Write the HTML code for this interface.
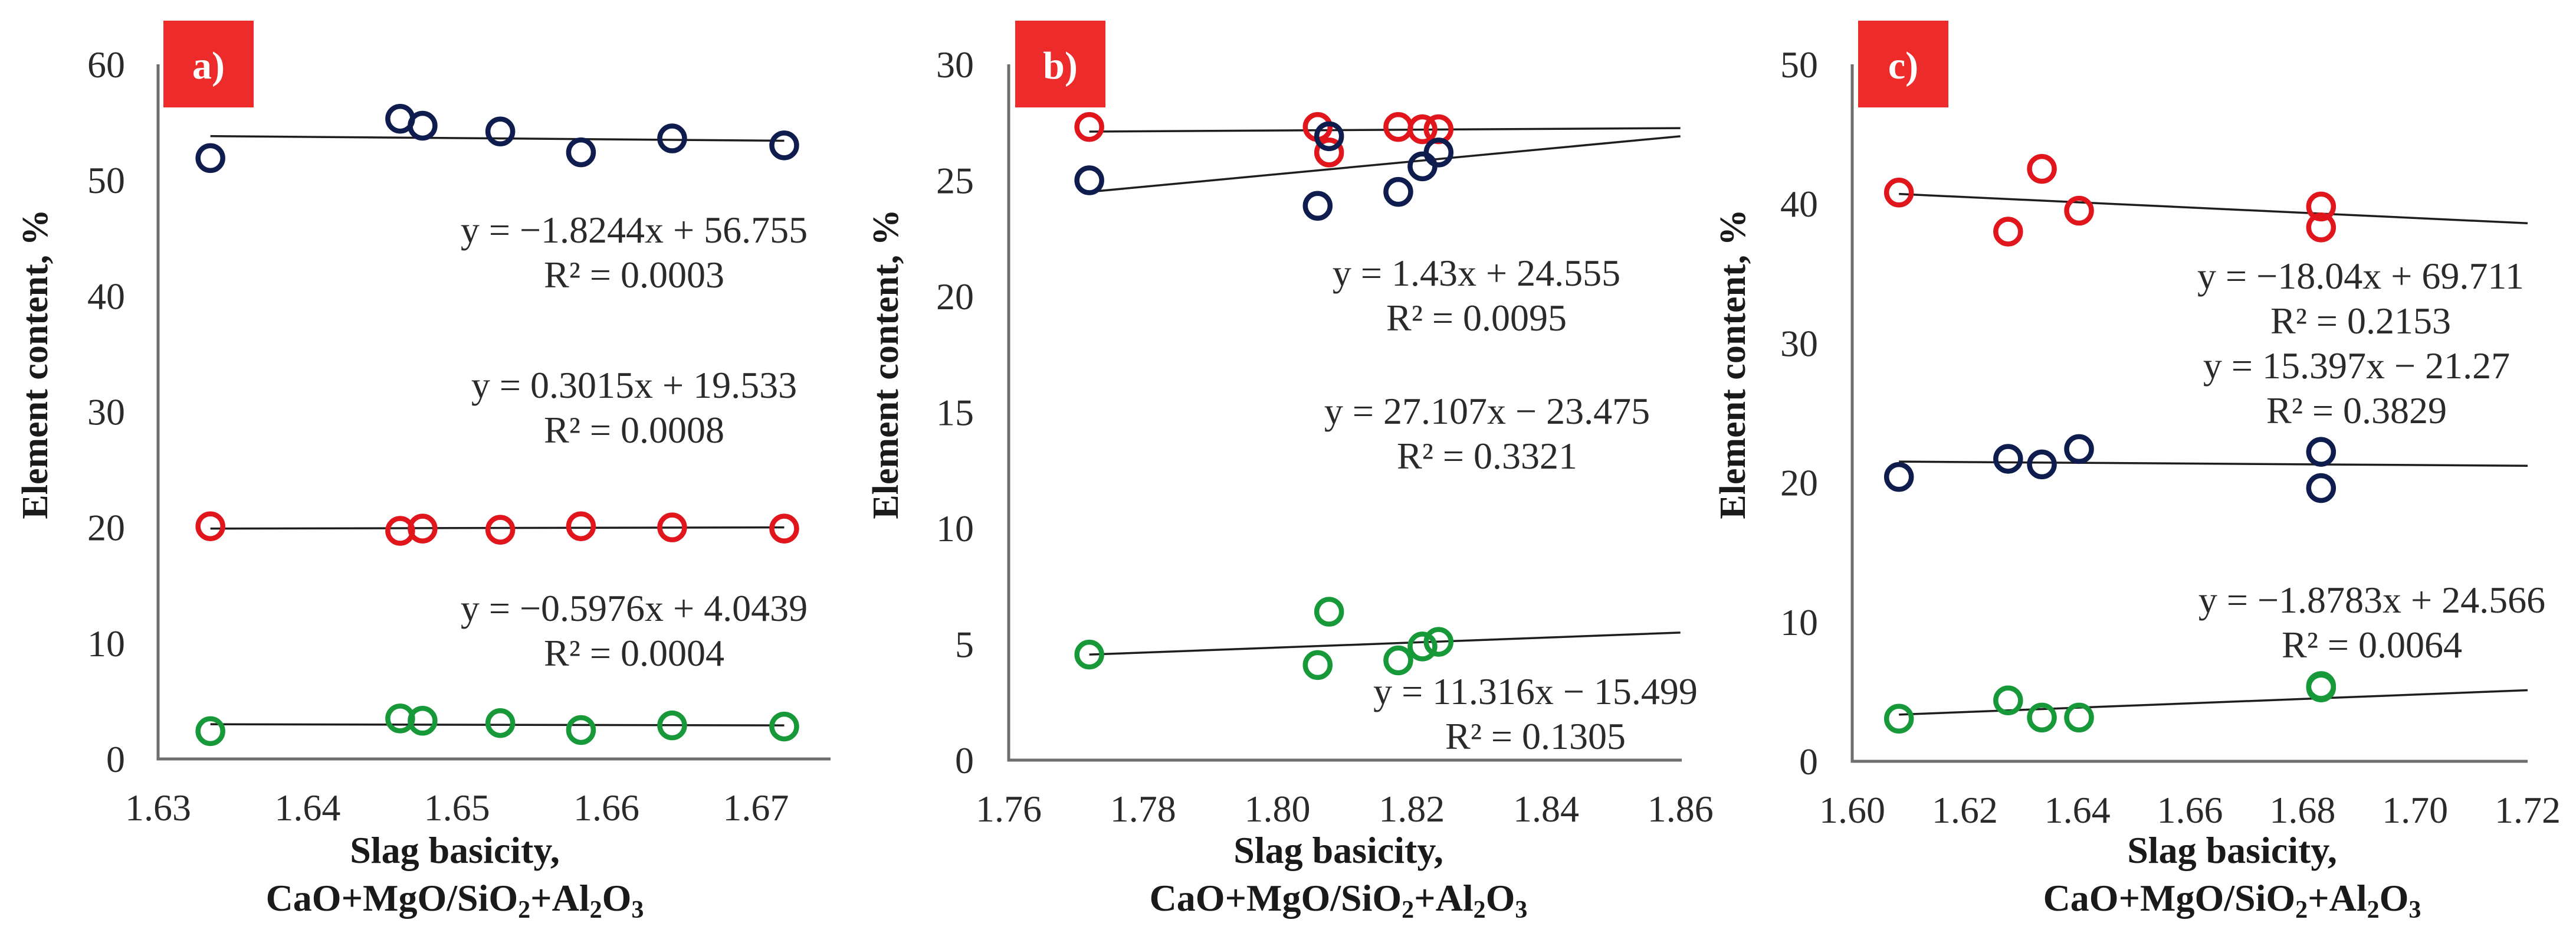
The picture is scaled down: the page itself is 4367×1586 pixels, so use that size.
<!DOCTYPE html>
<html><head><meta charset="utf-8"><style>
html,body{margin:0;padding:0;background:#fff;}
svg{display:block;}
text{font-family:"Liberation Serif",serif;}
</style></head><body>
<svg id="chart" width="4367" height="1586" viewBox="0 0 4367 1586" xmlns="http://www.w3.org/2000/svg"></svg>
<script>
// ---------- Panel a ----------
const aX = [1.6335, 1.6462, 1.6477, 1.6529, 1.6583, 1.6644, 1.6719];
const aNavy = [51.9, 55.3, 54.7, 54.2, 52.4, 53.6, 53.0];
const aRed = [20.1, 19.7, 19.9, 19.8, 20.1, 20.0, 19.9];
const aGreen = [2.4, 3.5, 3.3, 3.1, 2.5, 2.9, 2.8];
const aTrendX = [1.6335, 1.6719];
const aTrendNavy = [53.8, 53.4];
const aTrendRed = [19.9, 20.0];
const aTrendGreen = [3.0, 2.9];
const aXTicks = ["1.63", "1.64", "1.65", "1.66", "1.67"];
const aYTicks = ["0", "10", "20", "30", "40", "50", "60"];
const aEq = [["y = −1.8244x + 56.755", "R² = 0.0003"], ["y = 0.3015x + 19.533", "R² = 0.0008"], ["y = −0.5976x + 4.0439", "R² = 0.0004"]];
// ---------- Panel b ----------
const bX = [1.772, 1.806, 1.8077, 1.818, 1.8216, 1.824];
const bNavy = [25.0, 23.9, 26.9, 24.5, 25.6, 26.2];
const bRed = [27.3, 27.3, 26.2, 27.3, 27.2, 27.2];
const bGreen = [4.55, 4.1, 6.4, 4.3, 4.9, 5.1];
const bTrendX = [1.772, 1.86];
const bTrendRed = [27.1, 27.25];
const bTrendNavy = [24.5, 26.9];
const bTrendGreen = [4.55, 5.5];
const bXTicks = ["1.76", "1.78", "1.80", "1.82", "1.84", "1.86"];
const bYTicks = ["0", "5", "10", "15", "20", "25", "30"];
const bEq = [["y = 1.43x + 24.555", "R² = 0.0095"], ["y = 27.107x − 23.475", "R² = 0.3321"], ["y = 11.316x − 15.499", "R² = 0.1305"]];
// ---------- Panel c ----------
const cX = [1.6083, 1.6277, 1.6337, 1.6403, 1.6833, 1.6833];
const cRed = [40.8, 38.0, 42.5, 39.5, 39.8, 38.3];
const cNavy = [20.4, 21.7, 21.3, 22.4, 22.2, 19.6];
const cGreen = [3.06, 4.37, 3.14, 3.14, 5.4, 5.3];
const cTrendX = [1.6083, 1.72];
const cTrendRed = [40.7, 38.6];
const cTrendNavy = [21.5, 21.2];
const cTrendGreen = [3.35, 5.1];
const cXTicks = ["1.60", "1.62", "1.64", "1.66", "1.68", "1.70", "1.72"];
const cYTicks = ["0", "10", "20", "30", "40", "50"];
const cEq = [["y = −18.04x + 69.711", "R² = 0.2153"], ["y = 15.397x − 21.27", "R² = 0.3829"], ["y = −1.8783x + 24.566", "R² = 0.0064"]];

const NS = "http://www.w3.org/2000/svg";
const svg = document.getElementById('chart');
const NAVY = "#0f1d4e", RED = "#e0161c", GREEN = "#17993a";

function mk(tag, attrs, parent) {
  const e = document.createElementNS(NS, tag);
  for (const k in attrs) e.setAttribute(k, attrs[k]);
  (parent || svg).appendChild(e);
  return e;
}

const panels = [
  { id: 'a', label: 'a)', x0: 268, x1: 1408, base: 1286, top: 109, xmin: 1.63, xmax: 1.675, xstep: 0.01, ymax: 60, ystep: 10,
    xs: aX, tx: aTrendX, series: [[aNavy, NAVY, 'navy', aTrendNavy], [aRed, RED, 'red', aTrendRed], [aGreen, GREEN, 'green', aTrendGreen]], xt: aXTicks, yt: aYTicks,
    box: [277, 35, 153, 147], ytx: 212, ytitle: 60, xtitle: 771,
    eq: aEq, eqPos: [[1075, 389], [1075, 652], [1075, 1030]] },
  { id: 'b', label: 'b)', x0: 1710, x1: 2851, base: 1288, top: 109, xmin: 1.76, xmax: 1.8602, xstep: 0.02, ymax: 30, ystep: 5,
    xs: bX, tx: bTrendX, series: [[bRed, RED, 'red', bTrendRed], [bNavy, NAVY, 'navy', bTrendNavy], [bGreen, GREEN, 'green', bTrendGreen]], xt: bXTicks, yt: bYTicks,
    box: [1721, 35, 153, 147], ytx: 1651, ytitle: 1502, xtitle: 2269,
    eq: bEq, eqPos: [[2503, 462], [2521, 696], [2603, 1171]] },
  { id: 'c', label: 'c)', x0: 3140, x1: 4285, base: 1290, top: 109, xmin: 1.60, xmax: 1.72, xstep: 0.02, ymax: 50, ystep: 10,
    xs: cX, tx: cTrendX, series: [[cRed, RED, 'red', cTrendRed], [cNavy, NAVY, 'navy', cTrendNavy], [cGreen, GREEN, 'green', cTrendGreen]], xt: cXTicks, yt: cYTicks,
    box: [3150, 35, 153, 147], ytx: 3082, ytitle: 2938, xtitle: 3784,
    eq: cEq, eqPos: [[4002, 467], [3995, 619], [4021, 1016]] }
];

panels.forEach(p => {
  const g = mk('g', {});
  
  
  const X = v => p.x0 + (v - p.xmin) / (p.xmax - p.xmin) * (p.x1 - p.x0);
  const Y = v => p.base - v / p.ymax * (p.base - p.top);

  const ax = mk('path', { d: `M${p.x0},${p.top} L${p.x0},${p.base} L${p.x1},${p.base}`, fill: 'none', stroke: '#6e6e6e', 'stroke-width': 5 }, g);
  
  

  p.yt.forEach((t, i) => {
    const tx = mk('text', { x: p.ytx, y: Y(i * p.ystep) + 22, 'text-anchor': 'end', 'font-size': 64, fill: '#2a2a2a' }, g);
    tx.textContent = t;
    
    
  });
  p.xt.forEach((t, i) => {
    const tx = mk('text', { x: X(p.xmin + i * p.xstep), y: p.base + 104, 'text-anchor': 'middle', 'font-size': 64, fill: '#2a2a2a' }, g);
    tx.textContent = t;
    
    
  });
  const yt = mk('text', { x: 0, y: 0, transform: `translate(${p.ytitle + 20},617) rotate(-90)`, 'text-anchor': 'middle', 'font-size': 62, 'font-weight': 'bold', fill: '#1a1a1a' }, g);
  yt.textContent = 'Element content, %';
  
  
  const xt1 = mk('text', { x: p.xtitle, y: 1462, 'text-anchor': 'middle', 'font-size': 64, 'font-weight': 'bold', fill: '#1a1a1a' }, g);
  xt1.textContent = 'Slag basicity,';
  
  
  const xt2 = mk('text', { x: p.xtitle, y: 1543, 'text-anchor': 'middle', 'font-size': 64, 'font-weight': 'bold', fill: '#1a1a1a' }, g);
  xt2.innerHTML = 'CaO+MgO/SiO<tspan font-size="42" dy="12">2</tspan><tspan dy="-12">+Al</tspan><tspan font-size="42" dy="12">2</tspan><tspan dy="-12">O</tspan><tspan font-size="42" dy="12">3</tspan>';
  
  

  p.series.forEach(s => {
    const tr = s[3];
    const ln = mk('line', { x1: X(p.tx[0]), y1: Y(tr[0]), x2: X(p.tx[1]), y2: Y(tr[1]), stroke: '#1e1e1e', 'stroke-width': 3.5 }, g);
    
    
  });
  p.series.forEach(s => {
    s[0].forEach((v, i) => {
      const c = mk('circle', { cx: X(p.xs[i]), cy: Y(v), r: 21, fill: 'none', stroke: s[1], 'stroke-width': 8.5 }, g);
      
      
    });
  });
  p.eq.forEach((e, i) => {
    const pos = p.eqPos[i];
    const t1 = mk('text', { x: pos[0], y: pos[1] + 22, 'text-anchor': 'middle', 'font-size': 64, fill: '#2a2a2a' }, g);
    t1.textContent = e[0];
    
    
    const t2 = mk('text', { x: pos[0], y: pos[1] + 98, 'text-anchor': 'middle', 'font-size': 64, fill: '#2a2a2a' }, g);
    t2.textContent = e[1];
    
    
  });
  const bx = mk('rect', { x: p.box[0], y: p.box[1], width: p.box[2], height: p.box[3], fill: '#ee2b2b' }, g);
  
  
  const bt = mk('text', { x: p.box[0] + p.box[2] / 2, y: p.box[1] + 98, 'text-anchor': 'middle', 'font-size': 66, 'font-weight': 'bold', fill: '#fff' }, g);
  bt.textContent = p.label;
  
  
});
</script>
</body></html>
